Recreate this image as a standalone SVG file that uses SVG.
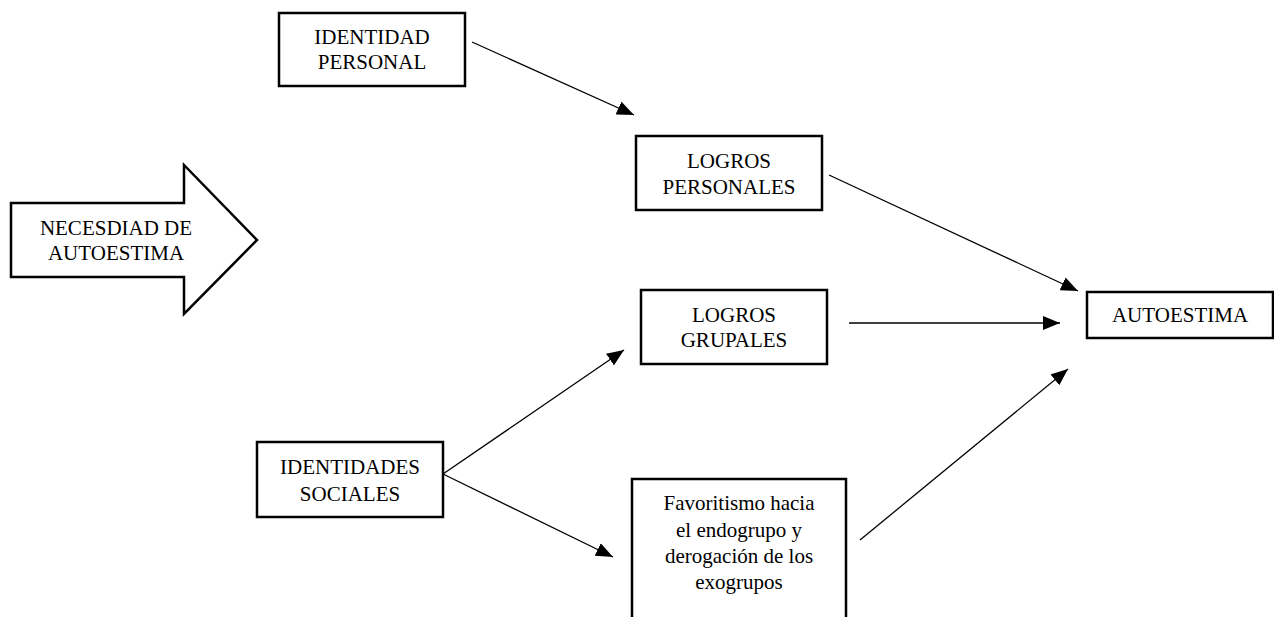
<svg xmlns="http://www.w3.org/2000/svg" width="1274" height="617" viewBox="0 0 1274 617">
<style>
.box{fill:#fff;stroke:#000;stroke-width:2.5}
text{font-family:'Liberation Serif','Times New Roman',Times,serif;font-size:21px;fill:#000;text-anchor:middle}
.c{stroke:#000;stroke-width:1.3;fill:none;marker-end:url(#ah)}
</style>
<defs>
<marker id="ah" markerUnits="userSpaceOnUse" markerWidth="18" markerHeight="14" refX="17" refY="7" orient="auto">
<path d="M0,0 L17,7 L0,14 z" fill="#000"/>
</marker>
</defs>
<rect width="1274" height="617" fill="#fff"/>
<g font-family="Liberation Serif, Times New Roman, serif">
<g id="necesidad">
<path class="box" d="M11,203 H184 V165 L257,240 L184,314 V277 H11 Z"/>
<text x="116" y="235">NECESDIAD DE</text>
<text x="116" y="260">AUTOESTIMA</text>
</g>
<g id="identidad-personal">
<rect class="box" x="279" y="13" width="186" height="73"/>
<text x="372" y="44">IDENTIDAD</text>
<text x="372" y="69">PERSONAL</text>
</g>
<g id="logros-personales">
<rect class="box" x="636" y="136" width="186" height="74"/>
<text x="729" y="168">LOGROS</text>
<text x="729" y="194">PERSONALES</text>
</g>
<g id="logros-grupales">
<rect class="box" x="641" y="290" width="186" height="74"/>
<text x="734" y="322">LOGROS</text>
<text x="734" y="347">GRUPALES</text>
</g>
<g id="autoestima">
<rect class="box" x="1087" y="292" width="186" height="46"/>
<text x="1180" y="322">AUTOESTIMA</text>
</g>
<g id="identidades-sociales">
<rect class="box" x="257" y="442" width="186" height="75"/>
<text x="350" y="474">IDENTIDADES</text>
<text x="350" y="501">SOCIALES</text>
</g>
<g id="favoritismo">
<path class="box" d="M632,620 V479 H846 V620"/>
<text x="739" y="510">Favoritismo hacia</text>
<text x="739" y="537">el endogrupo y</text>
<text x="739" y="563">derogación de los</text>
<text x="739" y="589">exogrupos</text>
</g>
</g>
<g id="connectors">
<line class="c" x1="472" y1="42" x2="634" y2="115"/>
<line class="c" x1="829" y1="175" x2="1078" y2="291"/>
<line class="c" x1="849" y1="323" x2="1060" y2="323"/>
<line class="c" x1="443" y1="474" x2="624" y2="350"/>
<line class="c" x1="443" y1="474" x2="613" y2="557"/>
<line class="c" x1="860" y1="540" x2="1068" y2="369"/>
</g>
</svg>
